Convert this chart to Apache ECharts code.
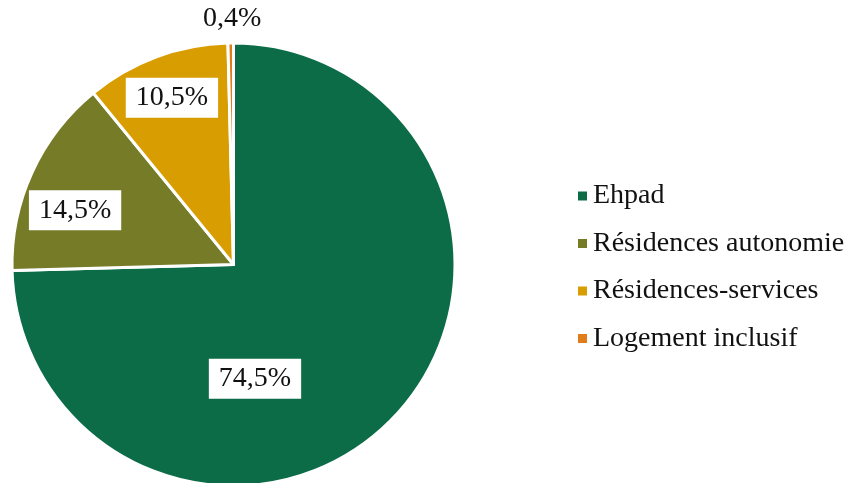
<!DOCTYPE html>
<html>
<head>
<meta charset="utf-8">
<script src="https://cdn.jsdelivr.net/npm/echarts@6/dist/echarts.min.js"></script>
<style>
  html, body { margin: 0; padding: 0; background: #fff; }
  #chart { width: 848px; height: 483px; }
</style>
</head>
<body>
<div id="chart"></div>
<script>
// Répartition des places
const categories = ["Ehpad", "Résidences autonomie", "Résidences-services", "Logement inclusif"];
const values = [74.5, 14.5, 10.5, 0.4];
const colors = ["#0b6c47", "#767b28", "#d89d00", "#e07c1a"];

// label nudges from the default "inside" spot (layout only)
const labelShift = [[-60, 35], [-55, -7], [-22, -60], [0, -132]];

const chart = echarts.init(document.getElementById("chart"));

const fontFamily = "Liberation Serif";

chart.setOption({
  animation: false,
  legend: {
    orient: "vertical",
    left: 571,
    top: 177,
    icon: "rect",
    itemWidth: 11,
    itemHeight: 11,
    itemGap: 19.5,
    textStyle: { fontFamily, fontSize: 28, color: "#111", lineHeight: 28 },
    data: categories
  },
  series: [
    {
      type: "pie",
      center: [233.5, 264.5],
      radius: 221.5,
      startAngle: 90,
      clockwise: true,
      itemStyle: { borderColor: "#fff", borderWidth: 3 },
      label: {
        show: true,
        position: "inside",
        formatter: (p) => p.value.toFixed(1).replace(".", ",") + "%",
        fontFamily,
        fontSize: 28,
        color: "#111",
        backgroundColor: "#fff",
        padding: [7, 10, 5, 10]
      },
      labelLayout: (p) => ({ dx: labelShift[p.dataIndex][0], dy: labelShift[p.dataIndex][1] }),
      emphasis: { disabled: true },
      data: categories.map((name, i) => ({
        name,
        value: values[i],
        itemStyle: { color: colors[i] }
      }))
    }
  ]
});
</script>
</body>
</html>
